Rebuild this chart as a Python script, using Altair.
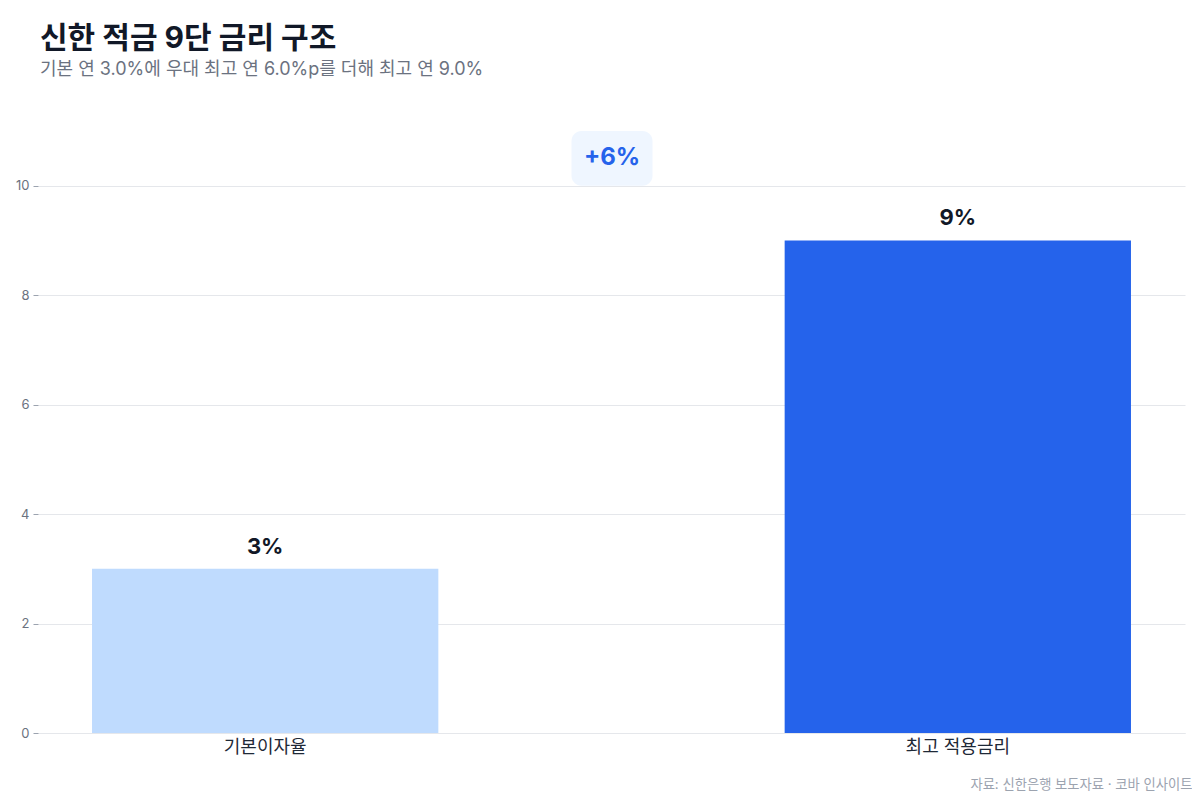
import altair as alt
import pandas as pd

categories = ["기본이자율", "최고 적용금리"]
values = [3.0, 9.0]
colors = ["#BFDBFE", "#2563EB"]
y_ticks = [0, 2, 4, 6, 8, 10]

title_text = "신한 적금 9단 금리 구조"
subtitle_text = "기본 연 3.0%에 우대 최고 연 6.0%p를 더해 최고 연 9.0%"
source_text = "자료: 신한은행 보도자료 · 코바 인사이트"

FONT = "Inter, 'Noto Sans CJK KR', sans-serif"
W, H = 1147, 602

df = pd.DataFrame({
    "cat": categories,
    "val": values,
    "label": [f"{v:g}%" for v in values],
})
diff = values[1] - values[0]
badge_df = pd.DataFrame({"lo": [10], "hi": [11], "mid": [10.5], "label": [f"+{diff:g}%"]})

x_enc = alt.X("cat:N", sort=categories,
              scale=alt.Scale(paddingInner=0.5, paddingOuter=0.078),
              axis=alt.Axis(title=source_text, labelAngle=0, labelFontSize=18,
                            labelColor="#1F2937", labelFont=FONT, ticks=False,
                            domain=True, domainColor="#E5E7EB", labelPadding=5,
                            titleFont=FONT, titleFontSize=13.3, titleColor="#9CA3AF",
                            titleFontWeight="normal", titleAnchor="end", titleAlign="right",
                            titleX=W + 7, titleY=58, titleBaseline="bottom"))
y_enc = alt.Y("val:Q", scale=alt.Scale(domain=[0, 11], nice=False),
              axis=alt.Axis(title=None, values=y_ticks, format="d", grid=True,
                            gridColor="#E5E7EB", domain=False, tickColor="#9CA3AF",
                            tickSize=5, labelColor="#6B7280", labelFontSize=13,
                            labelFont=FONT, labelPadding=4))

bars = alt.Chart(df).mark_bar().encode(
    x=x_enc,
    y=y_enc,
    color=alt.Color("cat:N", scale=alt.Scale(domain=categories, range=colors), legend=None),
)

labels = alt.Chart(df).mark_text(font=FONT, fontSize=22, fontWeight="bold",
                                 color="#111827", baseline="middle", dy=-22).encode(
    x=alt.X("cat:N", sort=categories),
    y="val:Q",
    text="label:N",
)

badge = alt.Chart(badge_df).mark_rect(color="#EFF6FF", cornerRadius=10).encode(
    x=alt.value(W / 2 - 40),
    x2=alt.value(W / 2 + 41),
    y="lo:Q",
    y2="hi:Q",
)
badge_text = alt.Chart(badge_df).mark_text(font=FONT, fontSize=24, fontWeight="bold",
                                           color="#2563EB", baseline="middle").encode(
    x=alt.value(W / 2 + 0.5),
    y="mid:Q",
    text="label:N",
)

chart = alt.layer(bars, badge, badge_text, labels).properties(
    width=W,
    height=H,
    background="white",
    title=alt.TitleParams(text=title_text, subtitle=subtitle_text, anchor="start",
                          frame="group", dx=2, offset=52,
                          font=FONT, fontSize=30, fontWeight="bold", color="#111827",
                          subtitleFont=FONT, subtitleFontSize=18, subtitleColor="#6B7280",
                          subtitlePadding=7),
    autosize=alt.AutoSizeParams(type="none"),
    padding={"left": 30, "top": 123, "right": 7, "bottom": 59},
).configure_view(strokeWidth=0, stroke="transparent")

chart.save("out.html", embed_options={"renderer": "svg", "actions": False})
